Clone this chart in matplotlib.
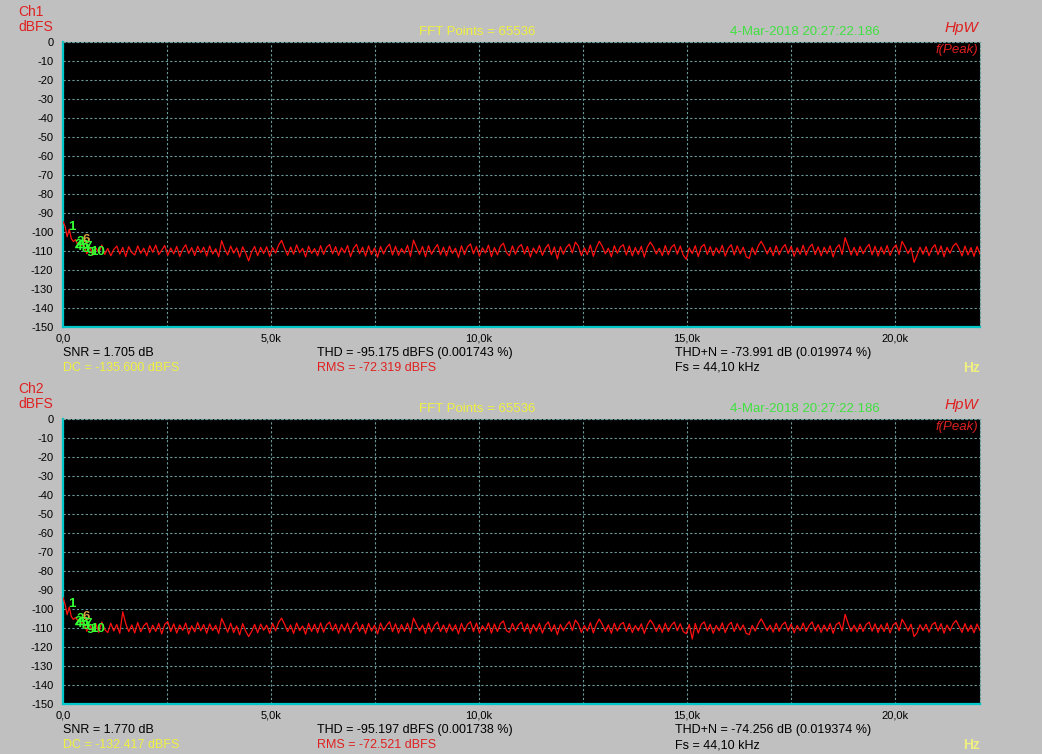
import numpy as np
import matplotlib
matplotlib.use("Agg")
import matplotlib.pyplot as plt

# ---------------- data ----------------
y_ticks = [0, -10, -20, -30, -40, -50, -60, -70, -80, -90, -100, -110, -120, -130, -140, -150]
x_ticks = [0, 5000, 10000, 15000, 20000]
x_tick_labels = ["0,0", "5,0k", "10,0k", "15,0k", "20,0k"]

lf_freq = [0, 50, 100, 150, 200, 250, 300, 350, 400, 450]
ch1_lf = [-94.5, -97.0, -102.5, -98.5, -103.5, -105.0, -104.0, -106.5, -105.5, -107.0]
ch2_lf = [-94.0, -97.5, -103.0, -99.0, -104.0, -105.5, -104.5, -106.0, -106.0, -107.5]

ch1_db = [
    -106.8, -111.4, -107.9, -112.2, -108.3, -110.9, -106.9, -111.8, -108.6, -112.5, -109.2, -107.4, -111.6, -108.1, -112.9, -107.7, -110.8, -112.1, -107.3, -111.2,
    -108.5, -112.6, -107.2, -110.7, -106.9, -111.9, -109.6, -107.1, -112.3, -108.4, -111.5, -107.6, -112.8, -109.1, -106.7, -111.3, -108.2, -112.4, -107.5, -110.9,
    -108.0, -112.7, -107.3, -111.6, -108.8, -113.0, -104.6, -108.9, -112.1, -107.4, -111.2, -108.3, -113.2, -107.8, -111.0, -115.2, -110.4, -107.6, -112.5, -108.1,
    -111.4, -107.7, -112.8, -108.2, -111.1, -106.9, -104.4, -108.5, -112.3, -107.9, -111.7, -106.8, -110.9, -108.6, -113.1, -107.5, -111.3, -108.7, -112.6, -107.2,
    -111.8, -108.1, -106.6, -111.5, -107.7, -112.4, -108.3, -111.0, -107.1, -112.9, -108.6, -106.5, -111.4, -108.0, -112.7, -107.3, -111.9, -108.4, -113.3, -107.6,
    -111.6, -108.2, -106.4, -112.1, -107.5, -112.3, -108.7, -111.2, -107.0, -112.8, -104.3, -108.1, -111.8, -107.6, -113.0, -107.2, -111.7, -108.8, -106.6, -112.0,
    -108.0, -112.6, -107.4, -111.3, -108.5, -113.4, -107.2, -111.9, -107.8, -106.3, -111.5, -107.6, -112.7, -108.3, -111.1, -106.9, -112.9, -108.2, -112.0, -107.5,
    -105.9, -110.8, -112.5, -107.3, -111.7, -108.0, -106.6, -111.6, -107.6, -113.1, -108.4, -111.3, -107.1, -112.3, -108.6, -106.5, -112.0, -107.9, -114.2, -107.7,
    -111.7, -108.1, -106.4, -111.1, -105.3, -107.4, -112.4, -108.3, -111.9, -106.9, -112.8, -108.2, -104.9, -107.6, -111.5, -108.5, -113.0, -107.2, -111.2, -107.9,
    -106.7, -112.1, -107.3, -112.6, -108.2, -111.8, -107.5, -113.2, -108.0, -105.3, -107.8, -111.6, -108.5, -112.5, -107.1, -112.0, -108.1, -106.6, -111.7, -107.4,
    -112.2, -114.3, -108.4, -111.4, -107.2, -112.9, -107.9, -106.5, -111.8, -107.7, -112.4, -108.3, -111.2, -107.0, -112.7, -108.6, -106.7, -112.1, -107.3, -111.5,
    -108.0, -113.0, -113.9, -108.2, -111.9, -107.4, -104.9, -107.8, -111.6, -108.1, -112.5, -107.2, -112.0, -108.5, -106.6, -111.3, -107.6, -112.8, -108.3, -111.7,
    -107.0, -112.2, -108.2, -106.4, -111.9, -107.8, -112.6, -108.0, -111.4, -107.3, -113.1, -108.5, -106.7, -111.8, -103.0, -107.3, -112.1, -108.1, -112.4, -107.6,
    -111.5, -108.4, -106.5, -112.0, -107.5, -112.7, -107.9, -111.6, -107.1, -112.3, -108.6, -106.8, -111.8, -104.9, -107.8, -111.4, -108.3, -116.0, -112.2, -108.0,
    -111.7, -107.7, -112.5, -108.5, -106.7, -111.9, -107.3, -113.0, -108.1, -111.2, -107.5, -105.9, -108.7, -112.6, -107.4, -112.1, -108.2, -112.8, -107.6, -111.6,
]

ch2_db = [
    -107.2, -111.7, -108.3, -111.9, -107.6, -112.3, -106.9, -110.8, -112.4, -107.5, -111.6, -108.2, -112.8, -101.5, -107.7, -111.9, -108.4, -112.6, -107.1, -112.0,
    -108.8, -107.3, -112.4, -108.5, -111.8, -107.6, -113.1, -108.1, -106.6, -111.9, -107.8, -112.7, -108.4, -111.3, -107.4, -113.2, -108.8, -112.1, -107.1, -111.5,
    -108.2, -112.8, -107.8, -111.4, -108.6, -112.9, -105.0, -108.4, -112.2, -107.5, -112.4, -108.9, -113.6, -107.7, -111.6, -114.5, -111.8, -108.1, -112.5, -107.9,
    -111.2, -108.5, -112.8, -107.6, -111.5, -107.0, -104.8, -108.1, -111.9, -108.4, -112.9, -107.4, -111.4, -108.9, -113.3, -107.6, -111.8, -108.0, -112.5, -107.3,
    -112.2, -108.4, -106.9, -111.4, -107.9, -112.8, -108.0, -111.6, -107.5, -112.6, -108.9, -106.9, -111.8, -108.1, -113.0, -107.6, -111.7, -108.5, -113.1, -107.4,
    -111.3, -108.7, -106.7, -111.9, -107.8, -112.7, -108.2, -111.8, -107.5, -112.5, -104.8, -108.2, -111.5, -108.4, -112.9, -107.4, -112.1, -108.6, -106.9, -111.9,
    -108.4, -112.3, -107.9, -111.6, -108.3, -113.1, -107.6, -111.8, -108.1, -106.7, -111.9, -107.4, -112.6, -108.8, -111.4, -107.3, -112.7, -107.9, -111.9, -107.7,
    -106.3, -111.4, -112.3, -107.6, -111.5, -108.5, -106.9, -111.9, -107.8, -112.9, -108.2, -111.7, -107.6, -112.7, -108.6, -106.8, -111.8, -108.3, -113.5, -108.1,
    -111.5, -108.6, -106.7, -111.4, -105.8, -107.9, -112.3, -108.7, -111.6, -107.2, -112.6, -108.0, -105.3, -108.1, -111.9, -108.3, -112.8, -107.6, -111.6, -108.2,
    -107.1, -111.8, -107.7, -112.4, -108.7, -111.5, -107.8, -112.9, -108.4, -105.8, -108.0, -111.9, -108.2, -112.3, -107.5, -111.8, -108.6, -106.9, -111.4, -107.8,
    -111.9, -113.0, -108.1, -115.8, -107.6, -112.7, -108.2, -106.8, -111.5, -108.0, -112.8, -108.7, -111.5, -107.3, -112.4, -108.5, -107.0, -111.9, -107.7, -111.2,
    -108.4, -112.8, -113.5, -108.6, -111.6, -107.8, -105.2, -108.1, -111.3, -108.5, -112.2, -107.5, -111.8, -108.3, -106.9, -111.6, -107.9, -112.5, -108.7, -111.4,
    -107.4, -111.9, -108.6, -106.8, -111.6, -108.2, -112.3, -108.4, -111.7, -107.7, -112.8, -108.3, -107.0, -111.5, -102.8, -107.6, -111.8, -108.5, -112.1, -107.9,
    -111.8, -108.2, -106.9, -111.7, -107.8, -112.4, -108.3, -111.9, -107.4, -112.6, -108.4, -107.1, -111.5, -105.4, -108.1, -111.6, -108.0, -114.5, -112.5, -108.3,
    -111.4, -108.0, -112.2, -108.3, -107.0, -111.6, -107.7, -112.7, -108.4, -111.5, -107.9, -106.0, -109.1, -112.3, -107.7, -111.8, -108.5, -112.5, -107.9, -111.3,
]

harm_labels = ["1", "2", "3", "4", "5", "6", "7", "8", "9", "10"]
harm_freq = [216, 360, 430, 384, 500, 560, 600, 540, 650, 830]
harm_db = [-97.4, -106.8, -105.3, -107.9, -107.4, -104.2, -107.9, -109.0, -110.8, -110.5]
harm_colors = ["#33ff33", "#33ff33", "#33ff33", "#33ff33", "#33ff33", "#d8a040",
               "#33ff33", "#33ff33", "#33ff33", "#33ff33"]

channels = [
    dict(name="Ch1", lf=ch1_lf, db=ch1_db, snr="SNR = 1.705 dB", dc="DC = -135.600 dBFS",
         thd="THD = -95.175 dBFS (0.001743 %)", rms="RMS = -72.319 dBFS",
         thdn="THD+N = -73.991 dB (0.019974 %)"),
    dict(name="Ch2", lf=ch2_lf, db=ch2_db, snr="SNR = 1.770 dB", dc="DC = -132.417 dBFS",
         thd="THD = -95.197 dBFS (0.001738 %)", rms="RMS = -72.521 dBFS",
         thdn="THD+N = -74.256 dB (0.019374 %)"),
]
fft_text = "FFT Points = 65536"
date_text = "4-Mar-2018 20:27:22.186"
fs_text = "Fs = 44,10 kHz"

# ---------------- drawing ----------------
W, H = 1042, 754
plt.rcParams["font.family"] = ["Liberation Sans", "DejaVu Sans"]
fig = plt.figure(figsize=(W / 100, H / 100), dpi=100, facecolor="#c0c0c0")

grid_col = "#6a9c9c"
spine_col = "#00c8c8"


def ftext(x, y, s, **kw):
    fig.text(x / W, 1 - y / H, s, va="center", **kw)


main_freq = np.linspace(500, 22050, len(ch1_db))

for k, ch in enumerate(channels):
    off = 377 * k
    top, bot = 42 + off, 327 + off
    ax = fig.add_axes([63 / W, 1 - bot / H, (980 - 63) / W, (bot - top) / H])
    ax.set_facecolor("black")
    freq = np.concatenate([lf_freq, main_freq])
    vals = np.concatenate([ch["lf"], ch["db"]])
    ax.plot(freq, vals, color="#ff1010", lw=0.9, zorder=3)
    for lab, f, d, c in zip(harm_labels, harm_freq, harm_db, harm_colors):
        ax.text(f, d, lab, color=c, fontsize=9.5, fontweight="bold",
                ha="center", va="center", zorder=4)
    ax.set_xlim(0, 22050)
    ax.set_ylim(-150, 0)
    ax.set_xticks(x_ticks)
    ax.set_xticklabels(x_tick_labels)
    ax.set_xticks(np.arange(2500, 22050, 2500), minor=True)
    ax.set_yticks(y_ticks)
    ax.set_yticklabels([str(v) for v in y_ticks])
    ax.tick_params(which="both", length=0, labelsize=8, colors="black")
    ax.tick_params(axis="x", pad=5)
    ax.tick_params(axis="y", pad=7)
    ax.grid(which="both", color=grid_col, linestyle=(0, (2, 2)), lw=0.8)
    for s in ["top", "right"]:
        ax.spines[s].set_color(grid_col)
        ax.spines[s].set_linestyle((0, (2, 2)))
        ax.spines[s].set_linewidth(0.8)
    for s in ["left", "bottom"]:
        ax.spines[s].set_color(spine_col)
        ax.spines[s].set_linewidth(1.6)
    ax.text(0.998, 0.972, "f(Peak)", transform=ax.transAxes, color="#e02020",
            fontsize=9.5, style="italic", ha="right", va="center")

    ftext(18, 12 + off, ch["name"], color="#e02020", fontsize=10)
    ftext(18, 27 + off, "dBFS", color="#e02020", fontsize=10)
    ftext(477, 32 + off, fft_text, color="#f0f040", fontsize=9.5, ha="center",
          family=["Liberation Sans Narrow", "Liberation Sans"])
    ftext(805, 32 + off, date_text, color="#40e040", fontsize=9.5, ha="center",
          family=["Liberation Sans Narrow", "Liberation Sans"])
    ftext(978, 28 + off, "HpW", color="#e02020", fontsize=11, style="italic", ha="right")
    ftext(63, 353 + off, ch["snr"], color="black", fontsize=9)
    ftext(63, 368 + off, ch["dc"], color="#f0f040", fontsize=9)
    ftext(317, 353 + off, ch["thd"], color="black", fontsize=9)
    ftext(317, 368 + off, ch["rms"], color="#e02020", fontsize=9)
    ftext(675, 353 + off, ch["thdn"], color="black", fontsize=9)
    ftext(675, 368 + off, fs_text, color="black", fontsize=9)
    ftext(980, 368 + off, "Hz", color="#f0f080", fontsize=10, fontweight="bold", ha="right")

fig.savefig("out.png", dpi=100, facecolor=fig.get_facecolor())
